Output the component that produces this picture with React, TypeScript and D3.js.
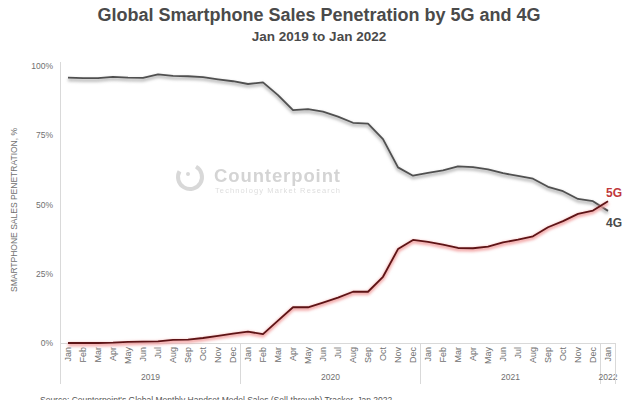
import React from "react";
import * as d3 from "d3";

const months = ["Jan","Feb","Mar","Apr","May","Jun","Jul","Aug","Sep","Oct","Nov","Dec"];
const years = ["2019", "2020", "2021", "2022"];
const categories: string[] = [];
years.forEach((y) => months.forEach((m) => { if (y !== "2022" || m === "Jan") categories.push(`${m} ${y}`); }));

const fourG = [
  95.8, 95.6, 95.6, 96.1, 95.8, 95.7, 97.0, 96.4, 96.3, 96.0, 95.2, 94.5,
  93.5, 94.1, 89.5, 84.1, 84.4, 83.5, 81.7, 79.5, 79.2, 73.6, 63.4, 60.4,
  61.4, 62.3, 63.8, 63.5, 62.7, 61.3, 60.3, 59.3, 56.4, 54.8, 52.0, 51.2,
  47.7,
];
const fiveG = [
  0.0, 0.0, 0.0, 0.1, 0.4, 0.5, 0.6, 1.1, 1.2, 1.8, 2.6, 3.4,
  4.1, 3.2, 8.1, 12.9, 12.9, 14.6, 16.4, 18.5, 18.5, 23.9, 33.9, 37.2,
  36.5, 35.5, 34.3, 34.2, 34.8, 36.3, 37.3, 38.5, 41.8, 44.0, 46.6, 47.8,
  51.2,
];
const yTicks = [0, 25, 50, 75, 100];

export default function App() {
  const x = d3.scaleBand<string>().domain(categories).range([60.5, 615.5]);
  const y = d3.scaleLinear().domain([0, 100]).range([343, 66]);
  const cx = (c: string) => (x(c) as number) + x.bandwidth() / 2;
  const line = d3.line<number>().x((_, i) => cx(categories[i])).y((d) => y(d));
  const font = "Liberation Sans, Arial, sans-serif";

  const yearGroups = years.map((yr) => {
    const cs = categories.filter((c) => c.endsWith(yr));
    const x0 = x(cs[0]) as number;
    const x1 = (x(cs[cs.length - 1]) as number) + x.bandwidth();
    return { yr, x0, x1 };
  });

  return (
    <svg width={640} height={400} style={{ position: "absolute", left: 0, top: 0, background: "#fff" }} fontFamily={font}>
      <defs>
        <filter id="blurG" x="-5%" y="-20%" width="110%" height="140%">
          <feGaussianBlur stdDeviation="1.5" />
        </filter>
      </defs>
      <rect width={640} height={400} fill="#fff" />
      <text x={319} y={21} textAnchor="middle" fontSize={18} fontWeight="bold" fill="#4a4a4a">Global Smartphone Sales Penetration by 5G and 4G</text>
      <text x={319} y={41} textAnchor="middle" fontSize={13.5} fontWeight="bold" fill="#4a4a4a">Jan 2019 to Jan 2022</text>

      {/* watermark */}
      <g opacity={0.9}>
        <circle cx={190} cy={177} r={12} fill="none" stroke="#d4d4d4" strokeWidth={4} strokeDasharray="56 19" transform="rotate(-60 190 177)" />
        <circle cx={188} cy={174} r={2} fill="#d4d4d4" />
        <text x={214} y={182} fontSize={18.5} fontWeight="bold" fill="#d0d0d0" textLength={126}>Counterpoint</text>
        <text x={215} y={193} fontSize={7.5} fill="#dadada" textLength={125}>Technology Market Research</text>
      </g>

      {/* axes */}
      <line x1={60.5} x2={60.5} y1={62} y2={343} stroke="#d9d9d9" />
      <line x1={60.5} x2={615.5} y1={343.5} y2={343.5} stroke="#d9d9d9" />
      {yTicks.map((t) => (
        <text key={t} x={53} y={y(t) + 3} textAnchor="end" fontSize={8.5} fill="#707070">{t}%</text>
      ))}
      <text transform={`translate(17,210) rotate(-90)`} textAnchor="middle" fontSize={8.5} fill="#707070">SMARTPHONE SALES PENETRATION, %</text>

      {categories.map((c) => (
        <text key={c} transform={`translate(${cx(c) + 3},347) rotate(-90)`} textAnchor="end" fontSize={9} fill="#707070">{c.split(" ")[0]}</text>
      ))}
      {yearGroups.map((g) => (
        <g key={g.yr}>
          <line x1={g.x0} x2={g.x0} y1={343} y2={384} stroke="#d9d9d9" />
          <text x={(g.x0 + g.x1) / 2} y={380} textAnchor="middle" fontSize={8.5} fill="#707070">{g.yr}</text>
        </g>
      ))}
      <line x1={615.5} x2={615.5} y1={343} y2={384} stroke="#d9d9d9" />

      {/* 4G */}
      <path d={line(fourG) || ""} transform="translate(0,2)" fill="none" stroke="#b8b8b8" strokeWidth={3} filter="url(#blurG)" />
      <path d={line(fourG) || ""} fill="none" stroke="#505050" strokeWidth={1.8} strokeLinejoin="round" />
      {/* 5G */}
      <path d={line(fiveG) || ""} transform="translate(0,1.5)" fill="none" stroke="#f2a0a0" strokeWidth={3.5} filter="url(#blurG)" />
      <path d={line(fiveG) || ""} fill="none" stroke="#5e1416" strokeWidth={1.8} strokeLinejoin="round" />

      <text x={606} y={197} fontSize={12} fontWeight="bold" fill="#c0383c">5G</text>
      <text x={606} y={227} fontSize={12} fontWeight="bold" fill="#4a4a4a">4G</text>

      <text x={40} y={403} fontSize={8.5} fill="#555">Source: Counterpoint's Global Monthly Handset Model Sales (Sell-through) Tracker, Jan 2022</text>
    </svg>
  );
}
